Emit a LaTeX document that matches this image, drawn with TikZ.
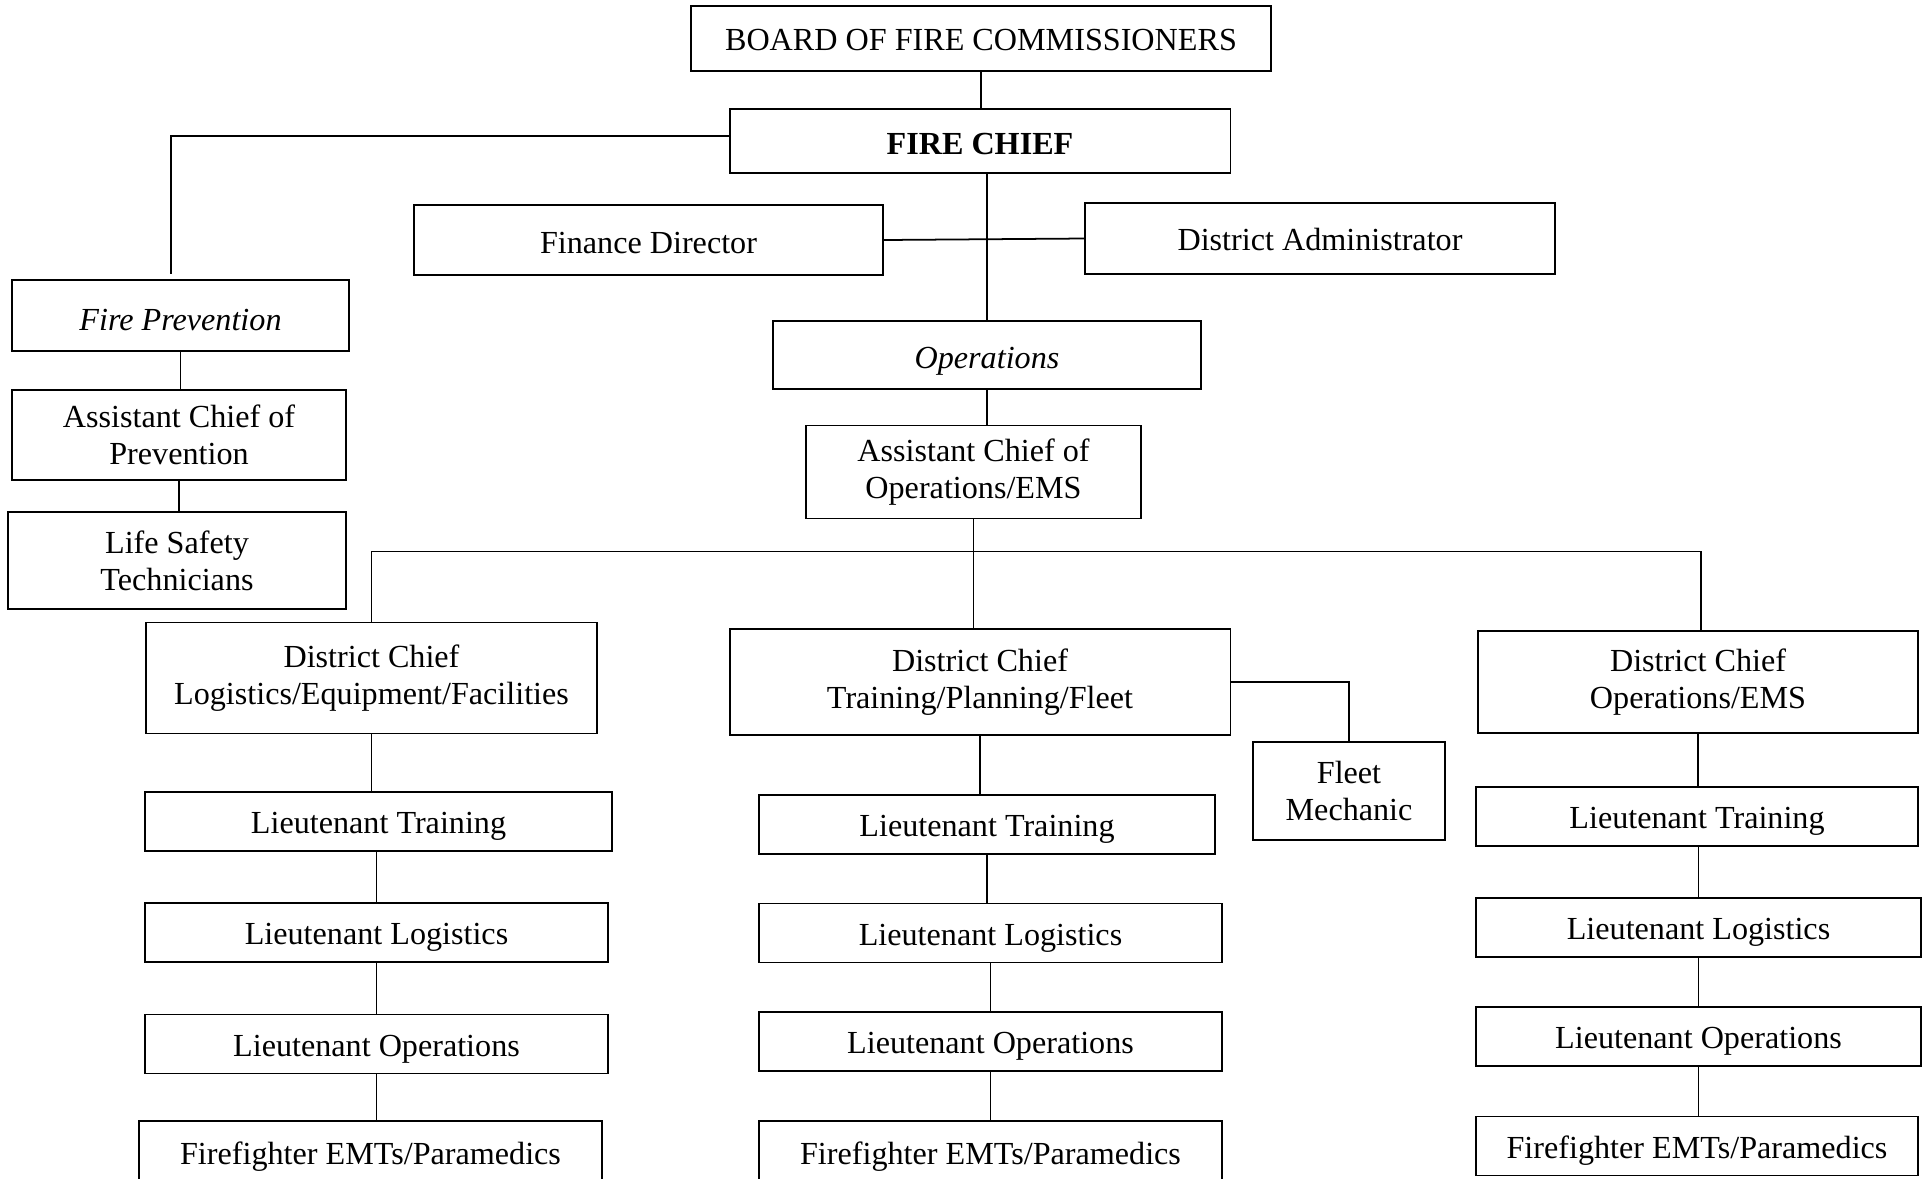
\documentclass[tikz,border=0pt]{standalone}
\usepackage{fontspec}
\setmainfont{Liberation Serif}
\usepackage{tikz}
\tikzstyle{post} = [draw=black, line width=1.1pt, align=center, inner sep=2pt, font={\fontsize{18.3}{21}\selectfont}]
\tikzstyle{single} = [text height=15.5pt]
\tikzstyle{lt} = [post, text height=18pt, minimum height=1.18cm]
\tikzstyle{link} = [draw=black, line width=1pt]

\begin{document}
\begin{tikzpicture}[x=0.02cm, y=-0.02cm]
    \useasboundingbox (0,0) rectangle (1926,1178);
    % top of the chart
    \node[post, text height=13.6pt, minimum width=11.59cm, minimum height=1.3cm](board) at (981,38.5){BOARD OF FIRE COMMISSIONERS};
    \node[post, text height=15.2pt, minimum width=10.02cm, minimum height=1.28cm, font={\fontsize{18.3}{21}\selectfont\bfseries}](chief) at (980,141){FIRE CHIEF};
    \node[post, single, minimum width=9.38cm, minimum height=1.4cm](finance) at (648.5,240){Finance Director};
    \node[post, text height=14.2pt, minimum width=9.4cm, minimum height=1.42cm](admin) at (1320,238.5){District Administrator};
    % prevention branch
    \node[post, text height=17pt, minimum width=6.74cm, minimum height=1.42cm, font={\fontsize{18.3}{21}\selectfont\itshape}](prev) at (180.5,315.5){Fire Prevention};
    \node[post, minimum width=6.68cm, minimum height=1.8cm](acprev) at (179,435){Assistant Chief of\\Prevention};
    \node[post, minimum width=6.75cm, minimum height=1.94cm](safety) at (177,560.5){Life Safety\\Technicians};
    % operations branch
    \node[post, text height=19.3pt, minimum width=8.57cm, minimum height=1.37cm, font={\fontsize{18.3}{21}\selectfont\itshape}](ops) at (987,355){Operations};
    \node[post, minimum width=6.7cm, minimum height=1.86cm](acops) at (973.5,472){Assistant Chief of\\Operations/EMS};
    \node[post, minimum width=9.02cm, minimum height=2.22cm](dclog) at (371.5,678){District Chief\\Logistics/Equipment/Facilities};
    \node[post, minimum width=10.02cm, minimum height=2.12cm](dctrain) at (980,682){District Chief\\Training/Planning/Fleet};
    \node[post, minimum width=8.81cm, minimum height=2.04cm](dcems) at (1698,682){District Chief\\Operations/EMS};
    \node[post, minimum width=3.84cm, minimum height=1.96cm](fleet) at (1349,791){Fleet\\Mechanic};
    % first column
    \node[lt, minimum width=9.34cm](train1) at (378.5,821.5){Lieutenant Training};
    \node[lt, minimum width=9.26cm](log1) at (376.5,932.5){Lieutenant Logistics};
    \node[lt, minimum width=9.26cm](oper1) at (376.5,1044){Lieutenant Operations};
    \node[lt, minimum width=9.26cm, minimum height=1.24cm](ff1) at (370.5,1152){Firefighter EMTs/Paramedics};
    % second column
    \node[lt, minimum width=9.12cm](train2) at (987,824.5){Lieutenant Training};
    \node[lt, minimum width=9.26cm](log2) at (990.5,933){Lieutenant Logistics};
    \node[lt, minimum width=9.26cm](oper2) at (990.5,1041.5){Lieutenant Operations};
    \node[lt, minimum width=9.26cm, minimum height=1.24cm](ff2) at (990.5,1152){Firefighter EMTs/Paramedics};
    % third column
    \node[lt, minimum width=8.85cm](train3) at (1697,816.5){Lieutenant Training};
    \node[lt, minimum width=8.9cm](log3) at (1698.5,927.5){Lieutenant Logistics};
    \node[lt, minimum width=8.9cm](oper3) at (1698.5,1036.5){Lieutenant Operations};
    \node[lt, minimum width=8.85cm](ff3) at (1697,1146){Firefighter EMTs/Paramedics};
    \coordinate (split) at (972,551.5);
    % connectors
    \draw[link](board.south) -- (board.south |- chief.north);
    \draw[link]([yshift=0.1cm]chief.west) -| ([xshift=-0.19cm, yshift=0.1cm]prev.north);
    \draw[link](chief.south -| ops.north) -- (ops.north);
    \draw[link](finance.east) -- (admin.west);
    \draw[link](prev.south) -- (prev.south |- acprev.north);
    \draw[link](acprev.south) -- (acprev.south |- safety.north);
    \draw[link](ops.south) -- (ops.south |- acops.north);
    \draw[link](acops.south) -- (acops.south |- dctrain.north);
    \draw[link](dclog.north) |- (split) -| ([xshift=0.06cm]dcems.north);
    \draw[link](dctrain.east) -| (fleet.north);
    \draw[link](dclog.south) -- (dclog.south |- train1.north);
    \draw[link](train1.south -| log1.north) -- (log1.north);
    \draw[link](log1.south) -- (oper1.north);
    \draw[link](ff1.north -| oper1.south) -- (oper1.south);
    \draw[link](dctrain.south) -- (dctrain.south |- train2.north);
    \draw[link](train2.south) -- (train2.south |- log2.north);
    \draw[link](log2.south) -- (oper2.north);
    \draw[link](oper2.south) -- (ff2.north);
    \draw[link](dcems.south) -- (dcems.south |- train3.north);
    \draw[link](train3.south -| log3.north) -- (log3.north);
    \draw[link](log3.south) -- (oper3.north);
    \draw[link](oper3.south) -- (oper3.south |- ff3.north);
\end{tikzpicture}
\end{document}
